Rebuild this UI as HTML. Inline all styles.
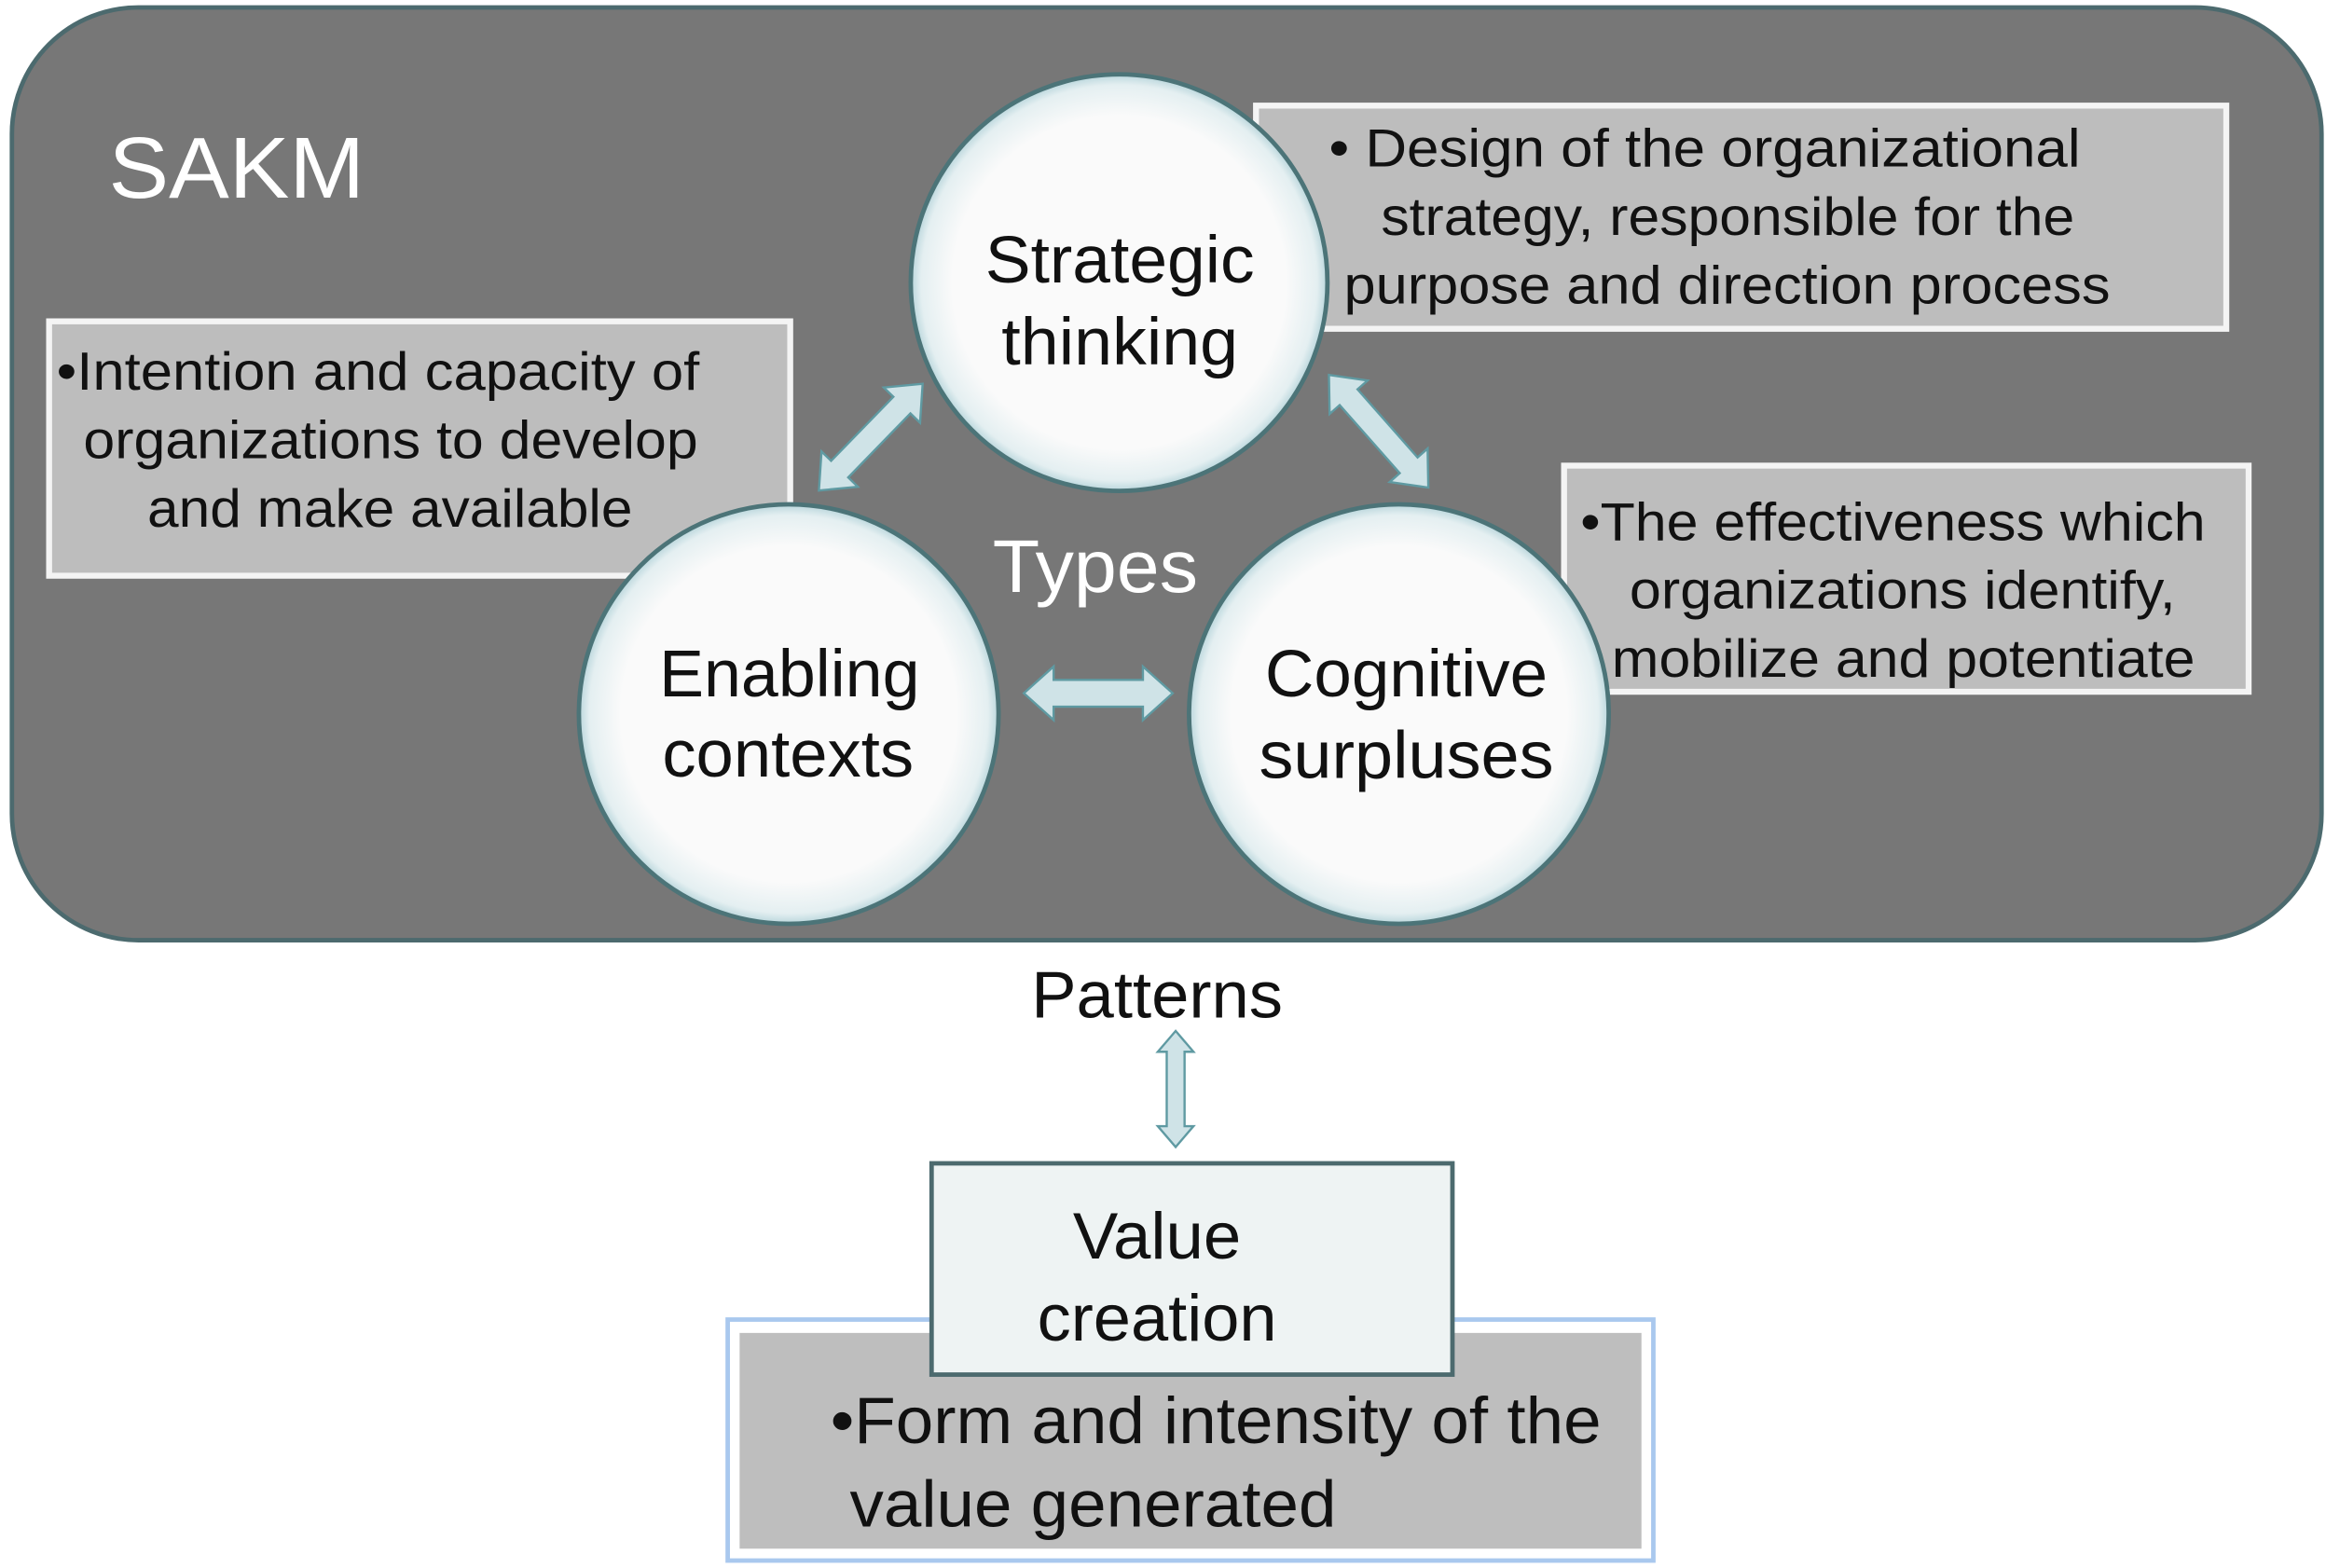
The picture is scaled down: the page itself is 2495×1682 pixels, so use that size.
<!DOCTYPE html>
<html><head><meta charset="utf-8"><style>html,body{margin:0;padding:0;background:#fff}svg{display:block}</style></head>
<body>
<svg width="2495" height="1682" viewBox="0 0 1563 1054" preserveAspectRatio="none" xmlns="http://www.w3.org/2000/svg" font-family="Liberation Sans, Arial, sans-serif">
<defs>
<radialGradient id="cg" cx="0.5" cy="0.5" r="0.5">
<stop offset="0.8" stop-color="#fafafa"/><stop offset="0.95" stop-color="#e4eff1"/><stop offset="1" stop-color="#b9d6dc"/>
</radialGradient>
</defs>
<rect x="8" y="5" width="1552" height="627" rx="85" fill="#777777" stroke="#4c6a6e" stroke-width="3"/>
<text x="73" y="133" font-size="58" fill="#fff" textLength="172" lengthAdjust="spacingAndGlyphs">SAKM</text>

<rect x="844" y="71" width="652" height="150" fill="#bdbdbd" stroke="#f4f4f4" stroke-width="4"/>
<rect x="33" y="216" width="498" height="171" fill="#bdbdbd" stroke="#f4f4f4" stroke-width="4"/>
<rect x="1051" y="313" width="460" height="152" fill="#bdbdbd" stroke="#f4f4f4" stroke-width="4"/>

<g font-size="36" fill="#111">
<text x="893" y="112" textLength="505" lengthAdjust="spacingAndGlyphs">• Design of the organizational</text>
<text x="928" y="158" textLength="466" lengthAdjust="spacingAndGlyphs">strategy, responsible for the</text>
<text x="903" y="204" textLength="515" lengthAdjust="spacingAndGlyphs">purpose and direction process</text>
<text x="38" y="262" textLength="432" lengthAdjust="spacingAndGlyphs">•Intention and capacity of</text>
<text x="56" y="308" textLength="413" lengthAdjust="spacingAndGlyphs">organizations to develop</text>
<text x="99" y="354" textLength="326" lengthAdjust="spacingAndGlyphs">and make available</text>
<text x="1062" y="363" textLength="420" lengthAdjust="spacingAndGlyphs">•The effectiveness which</text>
<text x="1095" y="409" textLength="367" lengthAdjust="spacingAndGlyphs">organizations identify,</text>
<text x="1083" y="455" textLength="392" lengthAdjust="spacingAndGlyphs">mobilize and potentiate</text>
</g>

<circle cx="752" cy="190" r="140" fill="url(#cg)" stroke="#4c7478" stroke-width="3"/>
<circle cx="530" cy="480" r="141" fill="url(#cg)" stroke="#4c7478" stroke-width="3"/>
<circle cx="940" cy="480" r="141" fill="url(#cg)" stroke="#4c7478" stroke-width="3"/>

<g font-size="45" fill="#111">
<text x="662" y="190" textLength="181" lengthAdjust="spacingAndGlyphs">Strategic</text>
<text x="673" y="245" textLength="159" lengthAdjust="spacingAndGlyphs">thinking</text>
<text x="443" y="468" textLength="175" lengthAdjust="spacingAndGlyphs">Enabling</text>
<text x="445" y="522" textLength="169" lengthAdjust="spacingAndGlyphs">contexts</text>
<text x="850" y="468" textLength="190" lengthAdjust="spacingAndGlyphs">Cognitive</text>
<text x="846" y="523" textLength="198" lengthAdjust="spacingAndGlyphs">surpluses</text>
</g>
<text x="667" y="398" font-size="50" fill="#fff" textLength="138" lengthAdjust="spacingAndGlyphs">Types</text>

<g fill="#cfe3e7" stroke="#5f9aa2" stroke-width="1.5">
<polygon transform="translate(620,258) rotate(134.2)" points="0,0 20,-17 20,-8 80,-8 80,-17 100,0 80,17 80,8 20,8 20,17"/>
<polygon transform="translate(893,252) rotate(48.6)" points="0,0 20,-17 20,-8 81,-8 81,-17 101,0 81,17 81,8 20,8 20,17"/>
<polygon transform="translate(688,466)" points="0,0 20,-18 20,-9 80,-9 80,-18 100,0 80,18 80,9 20,9 20,18"/>
<polygon transform="translate(790,693) rotate(90)" points="0,0 14,-12 14,-6 64,-6 64,-12 78,0 64,12 64,6 14,6 14,12"/>
</g>

<text x="693" y="684" font-size="44" fill="#111" textLength="169" lengthAdjust="spacingAndGlyphs">Patterns</text>

<rect x="489" y="887" width="622" height="162" fill="#fff" stroke="#a9c8ee" stroke-width="3"/>
<rect x="497" y="896" width="606" height="145" fill="#bebebe"/>
<rect x="626" y="782" width="350" height="142" fill="#eef3f3" stroke="#4c6a6e" stroke-width="3"/>
<g font-size="44" fill="#111">
<text x="721" y="846" textLength="113" lengthAdjust="spacingAndGlyphs">Value</text>
<text x="697" y="901" textLength="161" lengthAdjust="spacingAndGlyphs">creation</text>
<text x="558" y="970" textLength="518" lengthAdjust="spacingAndGlyphs">•Form and intensity of the</text>
<text x="571" y="1026" textLength="327" lengthAdjust="spacingAndGlyphs">value generated</text>
</g>
</svg>
</body></html>
